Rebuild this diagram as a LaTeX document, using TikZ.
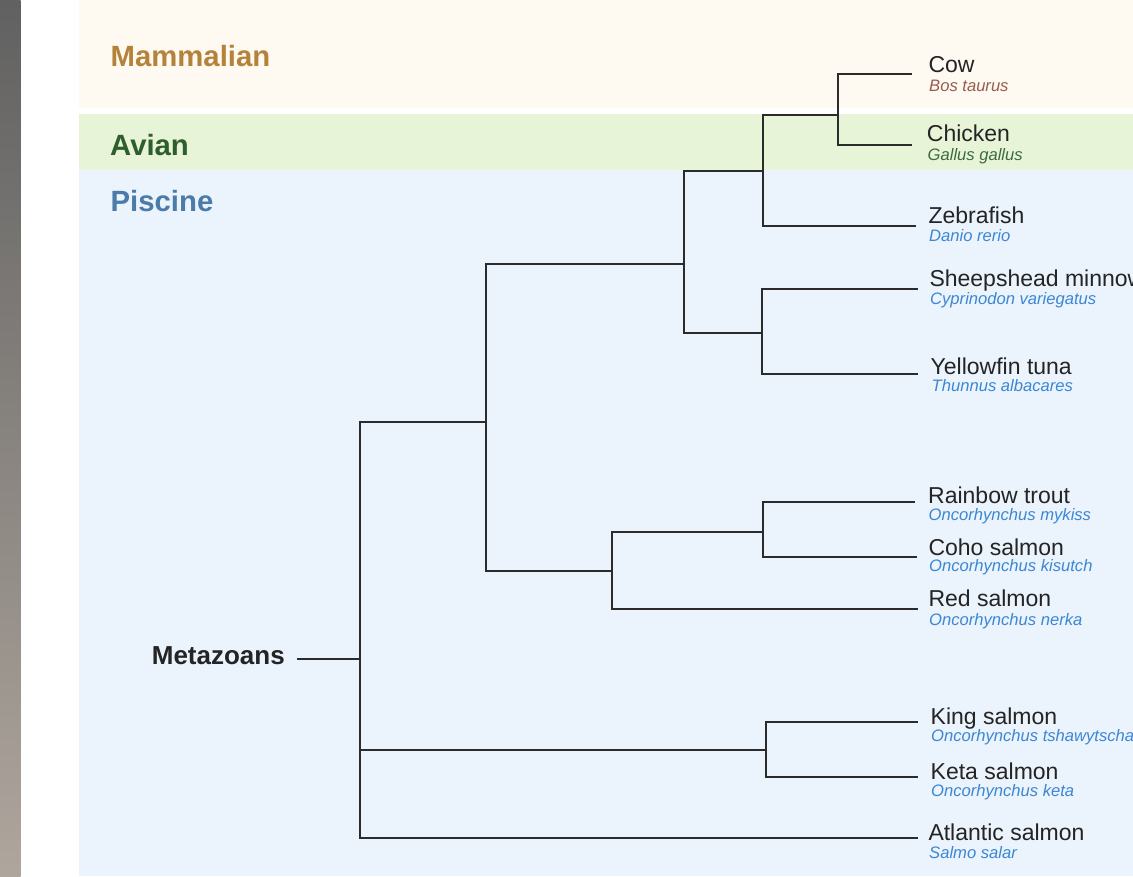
\documentclass[tikz,border=0pt]{standalone}
\usepackage{fontspec}
\setmainfont{Liberation Sans}
\definecolor{mamBg}{HTML}{FEFAF2}
\definecolor{aviBg}{HTML}{E7F4D8}
\definecolor{pisBg}{HTML}{EBF3FC}
\definecolor{mamTx}{HTML}{B5823A}
\definecolor{aviTx}{HTML}{2E5E2E}
\definecolor{pisTx}{HTML}{4A7BA9}
\definecolor{bosTx}{HTML}{9A5B4B}
\definecolor{galTx}{HTML}{3D6B3D}
\definecolor{fishTx}{HTML}{3B87D4}
\definecolor{ink}{HTML}{242424}
\definecolor{branch}{HTML}{2B2B2B}
\tikzset{
  band/.style={font=\fontsize{29.3}{31}\selectfont\bfseries, anchor=base west, inner sep=0pt},
  common/.style={font=\fontsize{23}{25}\selectfont, text=ink, anchor=base west, inner sep=0pt},
  latin/.style={font=\fontsize{16.6}{19}\selectfont\itshape, anchor=base west, inner sep=0pt},
  edge/.style={draw=branch, line width=2.1pt, line join=miter},
}
\begin{document}
\begin{tikzpicture}[x=1pt,y=-1pt]
\useasboundingbox (0,0) rectangle (1133,876);
% page edges
\shade[top color=black!55!gray!80, bottom color=brown!20!gray!70] (0,0) rectangle (20.7,876);
\fill[white] (20.7,0) rectangle (79,876);
% bands
\fill[mamBg] (79,0) rectangle (1133,108);
\fill[white] (79,108) rectangle (1133,114);
\fill[aviBg] (79,114) rectangle (1133,170);
\fill[pisBg] (79,170) rectangle (1133,876);
\node[band, text=mamTx] (mam) at (110.5,66.7) {Mammalian};
\node[band, text=aviTx] (avi) at (110,155) {Avian};
\node[band, text=pisTx] (pis) at (110.5,211) {Piscine};
% internal nodes
\coordinate (root) at (360,659);
\coordinate (n1) at (486,422);
\coordinate (n2) at (766,750);
\coordinate (n3) at (684,264);
\coordinate (n4) at (612,571);
\coordinate (n5) at (763,171);
\coordinate (n6) at (762,333);
\coordinate (n7) at (838,115);
\coordinate (n8) at (763,532);
% tips
\coordinate (tCow) at (912,74);
\coordinate (tChk) at (912,145);
\coordinate (tZeb) at (916,226);
\coordinate (tShp) at (918,289);
\coordinate (tYel) at (918,374);
\coordinate (tRbw) at (915,502);
\coordinate (tCoh) at (917,557);
\coordinate (tRed) at (918,609);
\coordinate (tKng) at (918,722);
\coordinate (tKet) at (918,777);
\coordinate (tAtl) at (918,838);
% root label
\node[font=\fontsize{26}{28}\selectfont\bfseries, text=ink, anchor=base east, inner ysep=0pt, inner xsep=12pt] (meta) at (297,664.3) {Metazoans};
% edges
\draw[edge] (meta.east |- root) -- (root);
\draw[edge] (root) |- (n1);
\draw[edge] (root) |- (n2);
\draw[edge] (root) |- (tAtl);
\draw[edge] (n1) |- (n3);
\draw[edge] (n1) |- (n4);
\draw[edge] (n3) |- (n5);
\draw[edge] (n3) |- (n6);
\draw[edge] (n5) |- (n7);
\draw[edge] (n5) |- (tZeb);
\draw[edge] (n7) |- (tCow);
\draw[edge] (n7) |- (tChk);
\draw[edge] (n6) |- (tShp);
\draw[edge] (n6) |- (tYel);
\draw[edge] (n4) |- (n8);
\draw[edge] (n4) |- (tRed);
\draw[edge] (n8) |- (tRbw);
\draw[edge] (n8) |- (tCoh);
\draw[edge] (n2) |- (tKng);
\draw[edge] (n2) |- (tKet);
% leaf labels
\node[common] (cow) at (928.3,72.7) {Cow};
\node[latin, text=bosTx] (cowL) at (929,91.7) {Bos taurus};
\node[common] (chk) at (926.7,141) {Chicken};
\node[latin, text=galTx] (chkL) at (927.5,160.7) {Gallus gallus};
\node[common] (zeb) at (928.3,223.3) {Zebrafish};
\node[latin, text=fishTx] (zebL) at (929,241) {Danio rerio};
\node[common] (shp) at (929.3,286.7) {Sheepshead minnow};
\node[latin, text=fishTx] (shpL) at (930,304.3) {Cyprinodon variegatus};
\node[common] (yel) at (930.5,374.3) {Yellowfin tuna};
\node[latin, text=fishTx] (yelL) at (931.5,391) {Thunnus albacares};
\node[common] (rbw) at (928,503.3) {Rainbow trout};
\node[latin, text=fishTx] (rbwL) at (928.5,520.7) {Oncorhynchus mykiss};
\node[common] (coh) at (928.3,555) {Coho salmon};
\node[latin, text=fishTx] (cohL) at (929,571.7) {Oncorhynchus kisutch};
\node[common] (red) at (928.3,606.7) {Red salmon};
\node[latin, text=fishTx] (redL) at (929,625) {Oncorhynchus nerka};
\node[common] (kng) at (930.5,724) {King salmon};
\node[latin, text=fishTx] (kngL) at (931,741) {Oncorhynchus tshawytscha};
\node[common] (ket) at (930.5,779) {Keta salmon};
\node[latin, text=fishTx] (ketL) at (931,796.7) {Oncorhynchus keta};
\node[common] (atl) at (928.3,840.7) {Atlantic salmon};
\node[latin, text=fishTx] (atlL) at (929,858.3) {Salmo salar};
\end{tikzpicture}
\end{document}
